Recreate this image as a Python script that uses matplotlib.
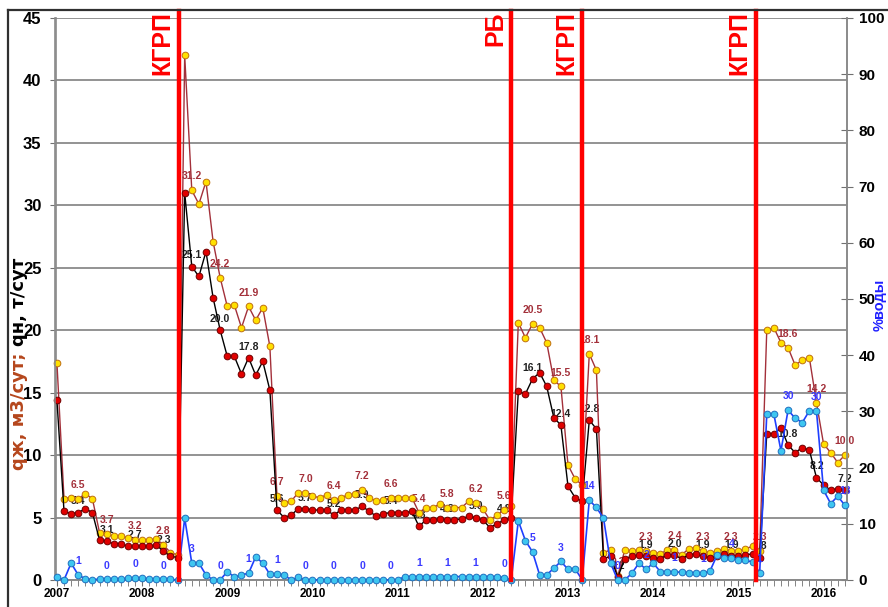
"""Well performance history 2007-2016: liquid rate, oil rate and water cut,
with the stimulation events (КГРП, РБ) marked as vertical red lines."""

import matplotlib

matplotlib.use("Agg")
import matplotlib.pyplot as plt
from matplotlib.lines import Line2D
import numpy as np

plt.rcParams["font.family"] = ["Liberation Sans", "DejaVu Sans"]

# ---------------------------------------------------------------------------
# Data (monthly, first point = Jan 2007)
# ---------------------------------------------------------------------------

years = [2007, 2008, 2009, 2010, 2011, 2012, 2013, 2014, 2015, 2016]

# qж, m3/day (yellow markers, brown line)
q_liquid = [
    17.4, 6.5, 6.6, 6.5, 6.9, 6.5, 3.8, 3.7, 3.5, 3.5, 3.4, 3.2,
    3.2, 3.2, 3.3, 2.8, 2.2, 2.0, 42.0, 31.2, 30.1, 31.9, 27.1, 24.2,
    21.9, 22.0, 20.2, 21.9, 20.8, 21.8, 18.7, 6.7, 6.2, 6.3, 7.0, 7.0,
    6.7, 6.6, 6.8, 6.4, 6.6, 6.8, 6.9, 7.2, 6.6, 6.3, 6.4, 6.6,
    6.6, 6.6, 6.6, 5.4, 5.8, 5.8, 6.1, 5.8, 5.8, 5.8, 6.3, 6.2,
    5.7, 4.8, 5.2, 5.6, 5.9, 20.6, 19.4, 20.5, 20.2, 19.0, 16.0, 15.5,
    9.2, 8.1, 7.6, 18.1, 16.8, 2.2, 2.4, 0.3, 2.4, 2.3, 2.4, 2.3,
    2.2, 2.1, 2.4, 2.4, 2.0, 2.5, 2.6, 2.3, 2.2, 2.3, 2.5, 2.3,
    2.3, 2.5, 2.7, 2.3, 20.0, 20.2, 19.0, 18.6, 17.2, 17.6, 17.8, 14.2,
    10.9, 10.2, 9.4, 10.0,
]

# qн, t/day (red markers, black line)
q_oil = [
    14.4, 5.5, 5.3, 5.4, 5.7, 5.4, 3.2, 3.1, 2.9, 2.9, 2.7, 2.7,
    2.7, 2.7, 2.8, 2.3, 1.9, 1.8, 31.0, 25.1, 24.3, 26.3, 22.6, 20.0,
    17.9, 17.9, 16.5, 17.8, 16.4, 17.5, 15.2, 5.6, 5.0, 5.2, 5.7, 5.7,
    5.6, 5.6, 5.6, 5.2, 5.6, 5.6, 5.6, 5.9, 5.5, 5.1, 5.3, 5.4,
    5.4, 5.4, 5.5, 4.3, 4.8, 4.8, 4.9, 4.8, 4.8, 4.9, 5.1, 5.0,
    4.8, 4.2, 4.5, 4.8, 5.0, 15.1, 14.9, 16.1, 16.6, 15.5, 13.0, 12.4,
    7.5, 6.6, 6.3, 12.8, 12.1, 1.7, 1.9, 0.2, 1.7, 1.9, 2.0, 1.9,
    1.8, 1.7, 2.0, 2.0, 1.7, 2.0, 2.1, 1.9, 1.8, 1.9, 2.1, 1.9,
    1.9, 2.0, 2.1, 1.8, 11.7, 11.7, 12.2, 10.8, 10.2, 10.6, 10.4, 8.2,
    7.6, 7.2, 7.3, 7.2,
]

# water cut, % (cyan markers, blue line, right axis)
water_cut = [
    0.6, 0.0, 3.0, 0.9, 0.2, 0.0, 0.2, 0.1, 0.2, 0.1, 0.3, 0.3,
    0.3, 0.2, 0.1, 0.1, 0.1, 0.0, 11.0, 3.0, 3.0, 0.9, 0.0, 0.0,
    1.5, 0.5, 0.9, 1.2, 4.1, 3.0, 1.0, 1.0, 0.9, 0.0, 0.5, 0.0,
    0.0, 0.0, 0.0, 0.0, 0.0, 0.0, 0.0, 0.0, 0.0, 0.0, 0.0, 0.0,
    0.0, 0.6, 0.6, 0.6, 0.6, 0.6, 0.6, 0.6, 0.6, 0.6, 0.6, 0.6,
    0.6, 0.6, 0.6, 0.4, 0.0, 10.5, 7.0, 5.0, 0.9, 0.9, 2.1, 3.3,
    1.9, 2.0, 0.0, 14.2, 12.9, 11.0, 3.0, 0.0, 0.0, 1.2, 3.0, 1.9,
    3.0, 1.5, 1.5, 1.4, 1.4, 1.3, 1.3, 1.2, 1.6, 4.4, 4.0, 3.9,
    3.6, 3.5, 3.2, 1.3, 29.5, 29.5, 23.0, 30.2, 28.8, 28.0, 30.1, 30.1,
    16.0, 13.6, 14.9, 13.3,
]

# events: month index (fractional) and name
event_month = [17.2, 64.0, 74.0, 98.5]
event_name = ["КГРП", "РБ", "КГРП", "КГРП"]

LABEL_EVERY = 4
LABEL_START = 3

BROWN = "#a3303a"
RED_EVENT = "#ff0000"


def label_points(ax, x, y, fmt, color, dy):
    """Data labels on every 4th month, slightly above the marker."""
    for i in range(LABEL_START, len(y), LABEL_EVERY):
        ax.annotate(
            fmt.format(y[i]),
            (x[i], y[i]),
            xytext=(0, dy),
            textcoords="offset points",
            ha="center",
            va="center",
            fontsize=7.5,
            fontweight="bold",
            color=color,
            zorder=2,
        )


def main():
    x = np.arange(len(q_liquid))

    fig = plt.figure(figsize=(8.88, 6.07), dpi=100)
    ax = fig.add_axes([0.0625, 0.0445, 0.8913, 0.9259])
    ax2 = ax.twinx()

    # chart-area border (left and top only, the rest is cropped)
    fig.add_artist(Line2D([0.009, 0.009], [0.0, 0.984], color="#303030", lw=1.6))
    fig.add_artist(Line2D([0.009, 1.0], [0.984, 0.984], color="#303030", lw=1.6))

    ax.plot(x, q_liquid, color=BROWN, lw=1.0, marker="o", ms=4.8,
            mfc="#ffe000", mec="#c07010", mew=0.7, zorder=3, clip_on=False)
    ax.plot(x, q_oil, color="black", lw=1.0, marker="o", ms=4.8,
            mfc="#e00000", mec="#700000", mew=0.7, zorder=4, clip_on=False)
    label_points(ax, x, q_liquid, "{:.1f}", BROWN, 10)
    label_points(ax, x, q_oil, "{:.1f}", "#202020", 8)

    ax2.plot(x, water_cut, color="#1f3fff", lw=1.2, marker="o", ms=4.8,
             mfc="#3ec6f0", mec="#2070c0", mew=0.7, zorder=3, clip_on=False)
    label_points(ax2, x, water_cut, "{:.0f}", "#3a3aff", 10)

    for m, name in zip(event_month, event_name):
        ax2.axvline(m, ymin=0, ymax=1.012, color=RED_EVENT, lw=3.2, zorder=6,
                    clip_on=False)
        ax2.text(m - 0.6, 101.2, name, rotation=90, ha="right", va="top",
                 color=RED_EVENT, fontsize=18, fontweight="bold", zorder=6,
                 clip_on=False)

    ax.set_xlim(-0.2, 111.3)
    ax.set_ylim(0, 45)
    ax2.set_ylim(0, 100)

    ax.set_xticks(np.arange(0, len(x), 12))
    ax.set_xticklabels([str(y) for y in years], fontsize=8.5, fontweight="bold")
    ax.set_xticks(np.arange(0, 112), minor=True)
    ax.tick_params(axis="x", which="both", direction="out", length=4,
                   color="#707070", pad=2)

    ax.set_yticks(np.arange(0, 46, 5))
    ax.set_yticklabels([str(v) for v in range(0, 46, 5)], fontsize=12,
                       fontweight="bold")
    ax.tick_params(axis="y", direction="out", length=4, color="#707070", pad=6)

    ax2.set_yticks(np.arange(0, 101, 10))
    ax2.set_yticklabels([str(v) for v in range(0, 101, 10)], fontsize=11,
                        fontweight="bold")
    ax2.tick_params(axis="y", direction="inout", length=9, color="#707070", pad=4)

    ax.grid(axis="y", color="#8a8a8a", lw=1.3)
    ax.set_axisbelow(True)
    for a in (ax, ax2):
        a.spines["top"].set_visible(False)
        for s in ("left", "right", "bottom"):
            a.spines[s].set_color("#8a8a8a")
            a.spines[s].set_linewidth(1.2)

    # two-coloured left axis title: place the black part right after the brown one
    H = 607.0
    part1 = fig.text(0.021, 1 - 470 / H, "qж, м3/сут;", rotation=90,
                     ha="center", va="bottom", color="#b5461c", fontsize=13,
                     fontweight="bold", family=["DejaVu Sans"])
    fig.canvas.draw()
    bb = part1.get_window_extent()
    part2_y = (bb.y1 + 7) / H
    fig.text(0.021, part2_y, "qн, т/сут", rotation=90, ha="center",
             va="bottom", color="black", fontsize=13, fontweight="bold",
             family=["DejaVu Sans"])
    fig.text(0.9905, 1 - 305 / H, "%воды", rotation=90, ha="center",
             va="center", color="#2020ff", fontsize=10.5, fontweight="bold")

    fig.savefig("out.png", dpi=100)
    plt.close(fig)


if __name__ == "__main__":
    main()
